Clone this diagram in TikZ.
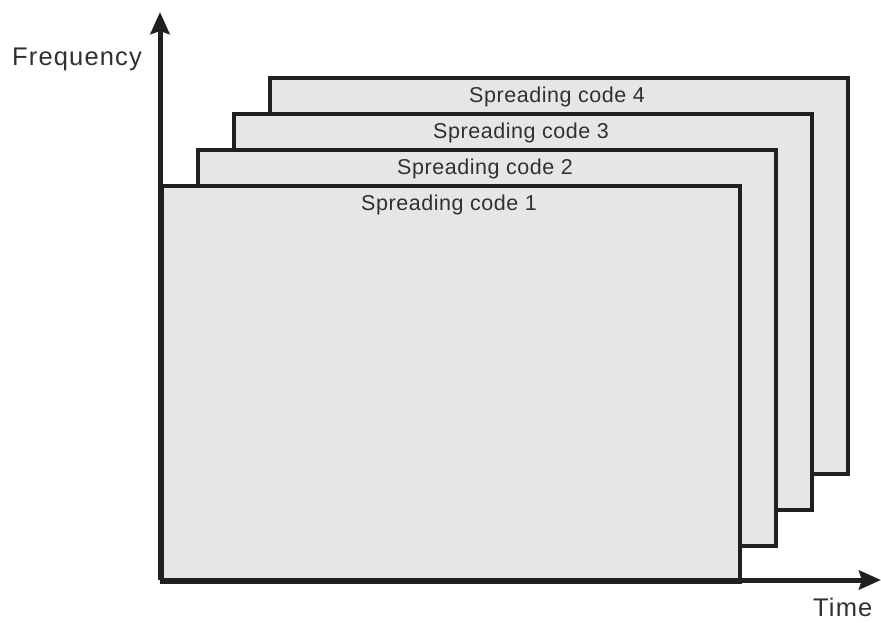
\documentclass[tikz,border=0pt]{standalone}
\usepackage{fontspec}
\setmainfont{Liberation Sans}
\usetikzlibrary{arrows.meta}
\definecolor{boxfill}{HTML}{E6E6E6}
\definecolor{linecol}{HTML}{202020}
\definecolor{textcol}{HTML}{303030}
\tikzset{
  codebox/.style={draw=linecol, fill=boxfill, line width=4pt, minimum width=578pt, minimum height=396pt, inner sep=0pt, anchor=north west},
  codelabel/.style={anchor=base, text=textcol, font=\fontsize{21.5}{24}\selectfont\addfontfeature{LetterSpace=2.5}, inner sep=0pt},
  axislabel/.style={anchor=base west, text=textcol, font=\fontsize{25.5}{30}\selectfont\addfontfeature{LetterSpace=4.5}, inner sep=0pt},
  axisline/.style={draw=linecol, line width=5pt, -{Stealth[length=22pt,width=19pt,inset=3pt]}}
}
\begin{document}
\begin{tikzpicture}[x=1pt,y=-1pt]
\useasboundingbox (0,0) rectangle (881,622);
\node[codebox] (r4) at (268,76) {};
\node[codebox] (r3) at (232,112) {};
\node[codebox] (r2) at (196,148) {};
\node[codebox] (r1) at (160,184) {};
\node[codelabel] (l4) at (557,102) {Spreading code 4};
\node[codelabel] (l3) at (521,138) {Spreading code 3};
\node[codelabel] (l2) at (485,174) {Spreading code 2};
\node[codelabel] (l1) at (449,210) {Spreading code 1};
\coordinate (o) at (160,580);
\coordinate (ytip) at (160,12);
\coordinate (xtip) at (881,580);
\draw[axisline] (o) -- (ytip);
\draw[axisline] (o) -- (xtip);
\node[axislabel] (fq) at (12,65) {Frequency};
\node[axislabel] (tm) at (813,616) {Time};
\end{tikzpicture}
\end{document}
